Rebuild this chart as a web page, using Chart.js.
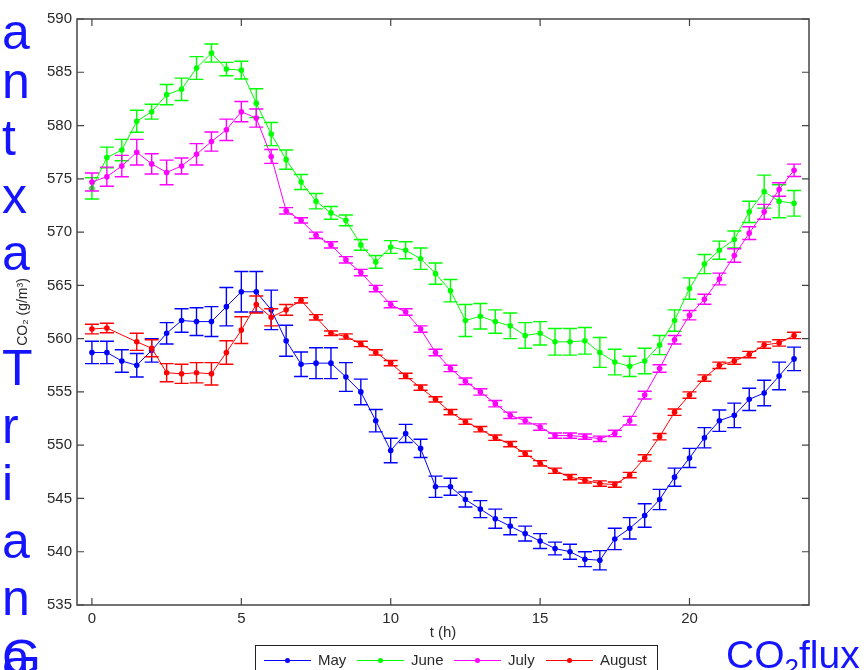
<!DOCTYPE html>
<html>
<head>
<meta charset="utf-8">
<script src="https://cdn.jsdelivr.net/npm/chart.js@4.4.1/dist/chart.umd.min.js"></script>
<style>
  html, body { margin: 0; padding: 0; background: #fff; overflow: hidden; }
  #wrap { position: relative; width: 866px; height: 670px; overflow: hidden; }
  #co2 { position: absolute; left: 0; top: 0; }
  .side { position: absolute; left: 2px; font: 50px/57.5px "Liberation Sans", Arial, sans-serif; color: #1414ff; white-space: pre; }
  .flux { position: absolute; left: 726px; top: 633px; font: 39px/44px "Liberation Sans", Arial, sans-serif; color: #1414ff; white-space: nowrap; }
  .flux sub { font-size: 26px; vertical-align: -9px; line-height: 0; }
</style>
</head>
<body>
<div id="wrap">
  <canvas id="co2" width="866" height="670"></canvas>
  <div class="side" style="top:4px">a</div>
  <div class="side" style="top:52.5px">n
t
x
a
 
T
r
i
a
n</div>
  <div class="side" style="top:630px">G</div>
  <div class="side" style="top:630px">a</div>
  <div class="flux">CO<sub>2</sub>flux</div>
</div>
<script>
// hour of day (h)
const hours = [0, 0.5, 1, 1.5, 2, 2.5, 3, 3.5, 4, 4.5, 5, 5.5, 6, 6.5, 7, 7.5, 8, 8.5, 9, 9.5,
  10, 10.5, 11, 11.5, 12, 12.5, 13, 13.5, 14, 14.5, 15, 15.5, 16, 16.5, 17, 17.5, 18, 18.5, 19, 19.5,
  20, 20.5, 21, 21.5, 22, 22.5, 23, 23.5];

// CO2 (g/m3) per month, with half-width of error bars
const may = [558.7, 558.7, 557.9, 557.5, 558.9, 560.5, 561.7, 561.6, 561.6, 563.0,
  564.4, 564.4, 562.7, 559.8, 557.6, 557.7, 557.7, 556.4, 555.0, 552.3,
  549.5, 551.1, 549.7, 546.1, 546.1, 544.9, 544.0, 543.1, 542.4, 541.7,
  541.0, 540.3, 540.0, 539.3, 539.2, 541.2, 542.2, 543.4, 544.9, 547.0,
  548.8, 550.7, 552.3, 552.8, 554.3, 554.9, 556.5, 558.1];
const errMay = [1.05, 1.05, 1.05, 1.1, 1.1, 1.0, 1.1, 1.3, 1.4, 1.8,
  1.9, 1.9, 1.85, 1.45, 1.15, 1.45, 1.45, 1.35, 1.2, 1.05,
  1.15, 0.85, 0.85, 1.0, 0.8, 0.7, 0.8, 0.9, 0.8, 0.7,
  0.7, 0.6, 0.7, 0.7, 0.9, 1.0, 1.0, 1.1, 0.95, 0.85,
  0.9, 0.95, 1.0, 1.15, 1.05, 1.2, 1.3, 1.1];

const june = [574.1, 577.0, 577.7, 580.4, 581.3, 582.9, 583.4, 585.4, 586.8, 585.3,
  585.2, 582.1, 579.2, 576.8, 574.7, 572.9, 571.8, 571.1, 568.8, 567.2,
  568.6, 568.3, 567.5, 566.1, 564.5, 561.7, 562.1, 561.6, 561.2, 560.3,
  560.5, 559.7, 559.7, 559.8, 558.7, 557.8, 557.4, 557.9, 559.4, 561.7,
  564.7, 567.0, 568.3, 569.3, 571.9, 573.8, 572.9, 572.7];
const errJune = [1.0, 0.97, 1.0, 1.03, 0.7, 0.95, 1.05, 1.07, 0.85, 0.63,
  0.83, 1.36, 1.08, 0.9, 0.7, 0.72, 0.6, 0.5, 0.5, 0.6,
  0.6, 0.8, 1.0, 1.0, 1.05, 1.5, 1.2, 1.1, 1.2, 1.2,
  1.1, 1.25, 1.25, 1.25, 1.4, 1.2, 0.95, 1.2, 0.9, 1.0,
  1.0, 0.9, 0.85, 0.8, 1.0, 1.55, 1.55, 1.2];

const july = [574.7, 575.2, 576.2, 577.5, 576.4, 575.6, 576.2, 577.3, 578.5, 579.6,
  581.3, 580.7, 577.1, 572.0, 571.1, 569.7, 568.8, 567.4, 566.2, 564.7,
  563.2, 562.5, 560.9, 558.7, 557.2, 556.0, 555.0, 553.9, 552.8, 552.3,
  551.7, 550.9, 550.9, 550.8, 550.6, 551.1, 552.3, 554.7, 557.2, 559.9,
  562.2, 563.7, 565.6, 567.8, 569.9, 571.9, 574.0, 575.8];
const errJuly = [0.85, 0.9, 1.0, 1.2, 0.95, 1.15, 0.75, 1.0, 0.9, 1.0,
  0.95, 0.85, 0.65, 0.3, 0.25, 0.3, 0.3, 0.3, 0.3, 0.3,
  0.3, 0.3, 0.3, 0.3, 0.3, 0.3, 0.3, 0.3, 0.3, 0.3,
  0.3, 0.25, 0.25, 0.25, 0.25, 0.3, 0.4, 0.36, 0.35, 0.4,
  0.44, 0.47, 0.55, 0.63, 0.6, 0.7, 0.63, 0.58];

const august = [560.9, 561.0, null, 559.7, 559.1, 556.8, 556.7, 556.8, 556.7, 558.7,
  560.8, 563.2, 562.0, 562.7, 563.6, 562.0, 560.5, 560.2, 559.5, 558.7,
  557.7, 556.5, 555.4, 554.3, 553.1, 552.2, 551.5, 550.7, 550.1, 549.2,
  548.3, 547.6, 547.0, 546.7, 546.4, 546.3, 547.2, 548.8, 550.8, 553.1,
  554.7, 556.3, 557.5, 557.9, 558.5, 559.4, 559.6, 560.3];
const errAugust = [0.45, 0.45, null, 0.8, 0.8, 0.85, 0.9, 0.95, 1.05, 1.1,
  1.25, 0.8, 0.8, 0.5, 0.25, 0.25, 0.22, 0.25, 0.25, 0.25,
  0.25, 0.25, 0.25, 0.25, 0.25, 0.25, 0.25, 0.25, 0.25, 0.25,
  0.25, 0.25, 0.25, 0.25, 0.25, 0.25, 0.25, 0.3, 0.3, 0.3,
  0.3, 0.3, 0.3, 0.3, 0.3, 0.3, 0.3, 0.3];

const months = ['May', 'June', 'July', 'August'];
const colors = ['#0000ff', '#00ff00', '#ff00ff', '#ff0000'];
const xTicks = [0, 5, 10, 15, 20];
const yTicks = [535, 540, 545, 550, 555, 560, 565, 570, 575, 580, 585, 590];

const FONT = '"Liberation Sans", Arial, sans-serif';
const INK = '#2a2a2a';

function series(values, errs, i) {
  return {
    label: months[i],
    data: hours.map((h, k) => ({ x: h, y: values[k] })),
    err: errs,
    borderColor: colors[i],
    backgroundColor: colors[i],
    pointBackgroundColor: colors[i],
    borderWidth: 1,
    pointRadius: 2.8,
    pointBorderWidth: 0,
    tension: 0,
    spanGaps: true,
    order: 4 - i
  };
}

// vertical error bars with caps, drawn right after each line
const errorBars = {
  id: 'errorBars',
  afterDatasetDraw(chart, args) {
    const ds = chart.data.datasets[args.index];
    const x = chart.scales.x, y = chart.scales.y, ctx = chart.ctx;
    ctx.save();
    ctx.strokeStyle = ds.borderColor;
    ctx.lineWidth = 1.4;
    ds.data.forEach((p, k) => {
      if (p.y == null || ds.err[k] == null) return;
      const px = x.getPixelForValue(p.x);
      const top = y.getPixelForValue(p.y + ds.err[k]);
      const bot = y.getPixelForValue(p.y - ds.err[k]);
      ctx.beginPath();
      ctx.moveTo(px, top); ctx.lineTo(px, bot);
      ctx.moveTo(px - 7, top); ctx.lineTo(px + 7, top);
      ctx.moveTo(px - 7, bot); ctx.lineTo(px + 7, bot);
      ctx.stroke();
    });
    ctx.restore();
  }
};

// matlab-like box with inward ticks on every side
const boxTicks = {
  id: 'boxTicks',
  afterDraw(chart) {
    const { ctx, chartArea: a, scales: { x, y } } = chart;
    ctx.save();
    ctx.strokeStyle = '#444';
    ctx.lineWidth = 1.5;
    ctx.strokeRect(a.left, a.top, a.right - a.left, a.bottom - a.top);
    ctx.lineWidth = 1.2;
    ctx.beginPath();
    xTicks.forEach(v => {
      const p = x.getPixelForValue(v);
      ctx.moveTo(p, a.bottom); ctx.lineTo(p, a.bottom - 7);
      ctx.moveTo(p, a.top); ctx.lineTo(p, a.top + 7);
    });
    yTicks.forEach(v => {
      const p = y.getPixelForValue(v);
      ctx.moveTo(a.left, p); ctx.lineTo(a.left + 7, p);
      ctx.moveTo(a.right, p); ctx.lineTo(a.right - 7, p);
    });
    ctx.stroke();
    ctx.restore();
  }
};

// boxed legend under the axis
const boxLegend = {
  id: 'boxLegend',
  afterDraw(chart) {
    const ctx = chart.ctx;
    const starts = [264, 357, 454, 546];
    ctx.save();
    ctx.strokeStyle = '#222';
    ctx.lineWidth = 1;
    ctx.strokeRect(255.5, 645.5, 402, 40);
    ctx.font = '15px ' + FONT;
    ctx.textBaseline = 'middle';
    months.forEach((m, i) => {
      const x0 = starts[i], yy = 660.5;
      ctx.strokeStyle = colors[i];
      ctx.beginPath(); ctx.moveTo(x0, yy); ctx.lineTo(x0 + 47, yy); ctx.stroke();
      ctx.fillStyle = colors[i];
      ctx.beginPath(); ctx.arc(x0 + 23.5, yy, 2.5, 0, Math.PI * 2); ctx.fill();
      ctx.fillStyle = INK;
      ctx.fillText(m, x0 + 54, yy);
    });
    ctx.restore();
  }
};

new Chart(document.getElementById('co2'), {
  type: 'line',
  data: {
    datasets: [
      series(may, errMay, 0),
      series(june, errJune, 1),
      series(july, errJuly, 2),
      series(august, errAugust, 3)
    ]
  },
  options: {
    responsive: false,
    animation: false,
    layout: { padding: { left: 0, top: 19, right: 57, bottom: 28 } },
    plugins: {
      legend: { display: false },
      tooltip: { enabled: false }
    },
    scales: {
      x: {
        type: 'linear',
        min: -0.5,
        max: 24,
        afterBuildTicks: s => { s.ticks = xTicks.map(v => ({ value: v })); },
        afterFit: s => { s.height = 37; },
        grid: { display: false, drawTicks: false },
        border: { display: false },
        ticks: { padding: 5, color: INK, font: { size: 15, family: FONT } },
        title: { display: true, text: 't (h)', color: INK, padding: { top: 0, bottom: 0 }, font: { size: 15, family: FONT } }
      },
      y: {
        min: 535,
        max: 590,
        afterBuildTicks: s => { s.ticks = yTicks.map(v => ({ value: v })); },
        afterFit: s => { s.width = 77; },
        grid: { display: false, drawTicks: false },
        border: { display: false },
        ticks: { padding: 5, color: INK, font: { size: 15, family: FONT } },
        title: { display: true, text: 'CO₂ (g/m³)', color: INK, padding: { top: 15, bottom: 0 }, font: { size: 14, family: FONT } }
      }
    }
  },
  plugins: [errorBars, boxTicks, boxLegend]
});
</script>
</body>
</html>
